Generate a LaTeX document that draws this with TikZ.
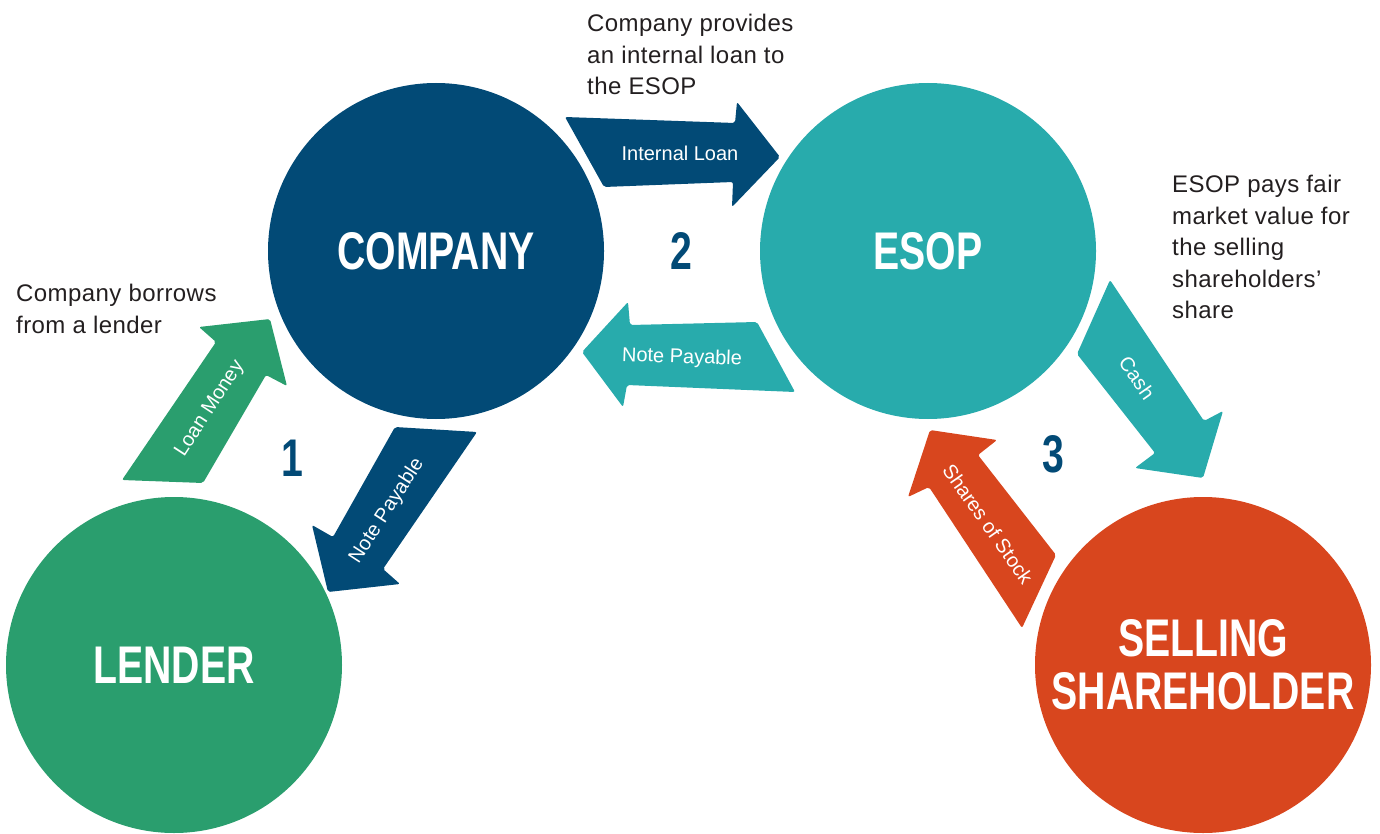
\documentclass[tikz,border=0pt]{standalone}
\usepackage{fontspec}
\setmainfont{Liberation Sans}
\newfontfamily\headfont[FakeStretch=0.74]{Liberation Sans}
\newfontfamily\notefont[LetterSpace=1.8]{Liberation Sans}
\usepackage{tikz}

\definecolor{companyblue}{HTML}{024A76}
\definecolor{esopteal}{HTML}{28ABAC}
\definecolor{lendergreen}{HTML}{2A9E6E}
\definecolor{sellerred}{HTML}{D8461E}
\definecolor{notegray}{HTML}{231F20}

\begin{document}
\begin{tikzpicture}[x=1pt,y=-1pt,
                    party/.style={circle,minimum size=336pt,inner sep=0pt,text=white,align=center,
                                  font=\headfont\bfseries\fontsize{53}{53}\selectfont},
                    flow/.style={rounded corners=2pt},
                    flowlabel/.style={text=white,inner sep=0pt,font=\fontsize{20}{24}\selectfont},
                    stepnum/.style={text=companyblue,inner sep=0pt,font=\headfont\bfseries\fontsize{53}{53}\selectfont},
                    note/.style={anchor=north west,inner sep=0pt,align=left,text=notegray,
                                 font=\notefont\fontsize{24}{31.5}\selectfont}]
  \useasboundingbox (0,0) rectangle (1380,834);

  \node[party,fill=companyblue] (company) at (436,251) {COMPANY};
  \node[party,fill=esopteal] (esop) at (928,251) {ESOP};
  \node[party,fill=lendergreen] (lender) at (174,665) {LENDER};
  \node[party,fill=sellerred] (seller) at (1203,665) {SELLING\\SHAREHOLDER};

  % Step 1
  \fill[lendergreen,flow] (122,480) -- (216,342) -- (199,327) -- (270,319) -- (287,386) -- (266,375) -- (203,483) -- cycle;
  \node[flowlabel,rotate=57] (loanmoney) at (210,409) {Loan Money};
  \fill[companyblue,flow] (395,427) -- (477,432) -- (383,569) -- (400,584) -- (328,592) -- (312,525) -- (333,537) -- cycle;
  \node[flowlabel,rotate=57] (notepay1) at (387,511) {Note Payable};
  \node[stepnum] (one) at (292,458) {1};

  % Step 2
  \fill[companyblue,flow] (565,117) -- (735,123) -- (737,102) -- (780,157) -- (732,207) -- (733,182) -- (604,187) -- cycle;
  \node[flowlabel] (intloan) at (680,153) {Internal Loan};
  \fill[esopteal,flow] (757,322) -- (630,325) -- (628,302) -- (582,352) -- (623,407) -- (627,385) -- (795,392) -- cycle;
  \node[flowlabel,rotate=-2] (notepay2) at (682,358) {Note Payable};
  \node[stepnum] (two) at (681,251) {2};

  % Step 3
  \fill[esopteal,flow] (1110,280) -- (1204,421) -- (1223,411) -- (1203,478) -- (1135,468) -- (1155,453) -- (1077,354) -- cycle;
  \node[flowlabel,rotate=-55] (cash) at (1137,378) {Cash};
  \fill[sellerred,flow] (930,430) -- (997,440) -- (978,455) -- (1056,555) -- (1022,628) -- (929,487) -- (908,497) -- cycle;
  \node[flowlabel,rotate=-55] (shares) at (988,524) {Shares of Stock};
  \node[stepnum] (three) at (1053,454) {3};

  % Notes
  \node[note] (borrownote) at (16,284) {Company borrows\\from a lender};
  \node[note] (loannote) at (587,14) {Company provides\\an internal loan to\\the ESOP};
  \node[note] (paynote) at (1172,175) {ESOP pays fair\\market value for\\the selling\\shareholders’\\share};
\end{tikzpicture}
\end{document}
